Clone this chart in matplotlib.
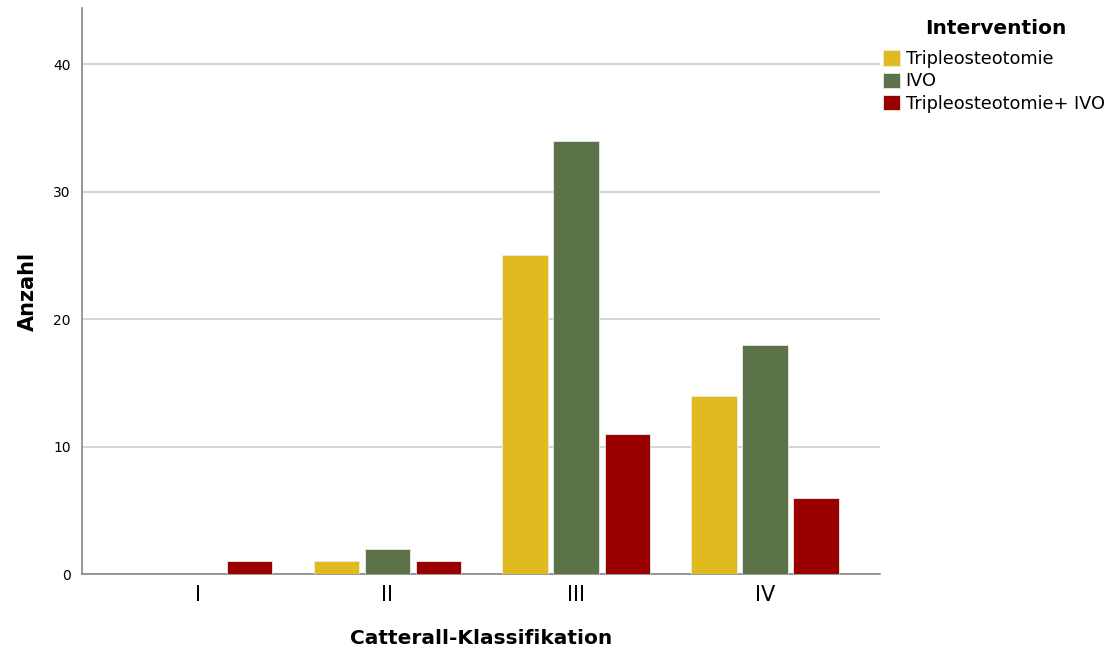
import numpy as np
import matplotlib
matplotlib.use('Agg')
import matplotlib.pyplot as plt

# Daten
klassen = ['I', 'II', 'III', 'IV']
gruppen = ['Tripleosteotomie', 'IVO', 'Tripleosteotomie+ IVO']
triple = [0, 1, 25, 14]
ivo = [0, 2, 34, 18]
triple_ivo = [1, 1, 11, 6]
farben = ['#E1BA1F', '#5C7248', '#990000']

plt.rcParams['font.family'] = ['DejaVu Sans']

fig = plt.figure(figsize=(11.16, 6.52), dpi=100)
ax = fig.add_axes([0.0735, 0.1196, 0.7154, 0.8681])

x = np.arange(len(klassen))
breite = 0.24
abstand = 0.27
for i, (werte, name) in enumerate(zip([triple, ivo, triple_ivo], gruppen)):
    hoehen = [w if w > 0 else np.nan for w in werte]
    ax.bar(x + (i - 1) * abstand, hoehen, width=breite, color=farben[i],
           edgecolor='#E8EDE4', linewidth=0.6, label=name, zorder=3)

ax.set_xlim(-0.615, 3.61)
ax.set_ylim(0, 44.4)
ax.set_yticks([0, 10, 20, 30, 40])
ax.set_xticks(x)
ax.set_xticklabels(klassen, fontsize=15)
ax.tick_params(axis='y', labelsize=10, length=0, pad=8)
ax.tick_params(axis='x', length=0, pad=8)
ax.yaxis.grid(True, color='#CCCCCC', linewidth=1.2, zorder=0)
ax.xaxis.grid(False)
for s in ['top', 'right']:
    ax.spines[s].set_visible(False)
for s in ['left', 'bottom']:
    ax.spines[s].set_color('#888888')
    ax.spines[s].set_linewidth(1.2)

ax.set_xlabel('Catterall-Klassifikation', fontsize=14.5, fontweight='bold', labelpad=17)
ax.set_ylabel('Anzahl', fontsize=15, fontweight='bold', labelpad=11)

# Legende mit separatem Titel
fig.text(996 / 1116, 1 - 28 / 652, 'Intervention', fontsize=14.5, fontweight='bold',
         ha='center', va='center')
leg = fig.legend(loc='upper left', bbox_to_anchor=(0.7915, 1 - 50 / 652), frameon=False,
                 fontsize=12.8, handlelength=0.95, handleheight=0.95,
                 handletextpad=0.3, labelspacing=0.25, borderaxespad=0, borderpad=0)

fig.savefig('out.png', dpi=100)
